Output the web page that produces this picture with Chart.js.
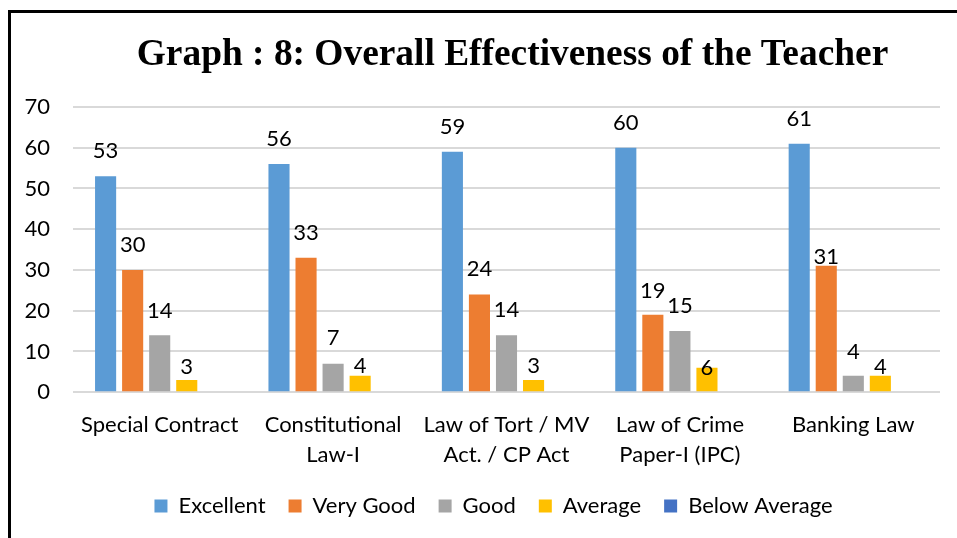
<!DOCTYPE html>
<html>
<head>
<meta charset="utf-8">
<script src="https://cdn.jsdelivr.net/npm/chart.js@4.4.0/dist/chart.umd.min.js"></script>
<style>
    html, body { margin: 0; padding: 0; background: #fff; }
    #wrap { position: relative; width: 957px; height: 538px; overflow: hidden; }
    #frame { position: absolute; left: 8px; top: 10px; width: 1000px; height: 600px;
             border-left: 3px solid #000; border-top: 3px solid #000; pointer-events: none; }
</style>
</head>
<body>
<div id="wrap">
    <canvas id="chart" width="957" height="538"></canvas>
    <div id="frame"></div>
</div>
<script>
const chartTitle = "Graph : 8: Overall Effectiveness of the Teacher";
const categories = [
    "Special Contract",
    ["Constitutional", "Law-I"],
    ["Law of Tort / MV", "Act. / CP Act"],
    ["Law of Crime", "Paper-I (IPC)"],
    "Banking Law"
];
const seriesNames = ["Excellent", "Very Good", "Good", "Average", "Below Average"];
const excellent = [53, 56, 59, 60, 61];
const veryGood = [30, 33, 24, 19, 31];
const good = [14, 7, 14, 15, 4];
const average = [3, 4, 3, 6, 4];
const belowAverage = [0, 0, 0, 0, 0];
const yTicks = [0, 10, 20, 30, 40, 50, 60, 70];

const colors = ["#5B9BD5", "#ED7D31", "#A5A5A5", "#FFC000", "#4472C4"];
// how far above the bar top each value label sits (px), like the original layout
const labelGap = [
    [25, 25, 25, 25, 25],
    [25, 25, 25, 24, 9],
    [24, 26, 25, 25, 24],
    [13, 10, 14, 0, 9],
    [0, 0, 0, 0, 0]
];

const FONT = "Lato, Calibri, sans-serif";
const canvas = document.getElementById("chart");
const ctx = canvas.getContext("2d");

// title drawn by hand so it can sit a bit right of the canvas centre
const titlePlugin = {
    id: "titleText",
    afterLayout(chart) {
        // legend in the original is centred a little to the right
        chart.legend.left += 39;
    },
    afterDraw(chart) {
        const c = chart.ctx;
        const area = chart.chartArea;
        c.save();
        c.font = "bold 37.4px 'Liberation Serif', 'Times New Roman', serif";
        c.fillStyle = "#000";
        c.textAlign = "center";
        c.textBaseline = "alphabetic";
        c.fillText(chartTitle, (area.left + area.right) / 2 + 6, 65);
        c.restore();
    }
};

// value labels above the bars
const valueLabels = {
    id: "valueLabels",
    afterDatasetsDraw(chart) {
        const c = chart.ctx;
        c.save();
        c.font = "22px " + FONT;
        c.fillStyle = "#000";
        c.textAlign = "center";
        c.textBaseline = "middle";
        chart.data.datasets.forEach((ds, i) => {
            const meta = chart.getDatasetMeta(i);
            meta.data.forEach((bar, j) => {
                const v = ds.data[j];
                if (!v) return;
                c.fillText(String(v), bar.x, bar.y - labelGap[i][j]);
            });
        });
        c.restore();
    }
};

const allSeries = [excellent, veryGood, good, average, belowAverage];

new Chart(ctx, {
    type: "bar",
    data: {
        labels: categories,
        datasets: allSeries.map((vals, i) => ({
            label: seriesNames[i],
            data: vals,
            backgroundColor: colors[i],
            borderWidth: 0,
            categoryPercentage: 0.78,
            barPercentage: 0.78
        }))
    },
    options: {
        responsive: false,
        animation: false,
        layout: { padding: { top: 107, left: 8, right: 17, bottom: 11 } },
        plugins: {
            title: { display: false },
            tooltip: { enabled: false },
            legend: {
                position: "bottom",
                labels: {
                    boxWidth: 13,
                    boxHeight: 13,
                    padding: 23,
                    color: "#000",
                    font: { family: FONT, size: 22 }
                }
            }
        },
        scales: {
            x: {
                grid: { display: false },
                border: { display: false },
                afterFit(axis) { axis.height -= 8; },
                ticks: {
                    color: "#000",
                    padding: 10,
                    maxRotation: 0,
                    autoSkip: false,
                    font: { family: FONT, size: 22, lineHeight: 1.36 }
                }
            },
            y: {
                min: 0,
                max: 70,
                border: { display: false },
                grid: { color: "#D9D9D9", lineWidth: 2, drawTicks: false },
                afterBuildTicks(axis) {
                    axis.ticks = yTicks.map(v => ({ value: v }));
                },
                afterFit(axis) { axis.width = 65; },
                ticks: {
                    color: "#000",
                    padding: 23,
                    font: { family: FONT, size: 22 }
                }
            }
        }
    },
    plugins: [titlePlugin, valueLabels]
});
</script>
</body>
</html>
